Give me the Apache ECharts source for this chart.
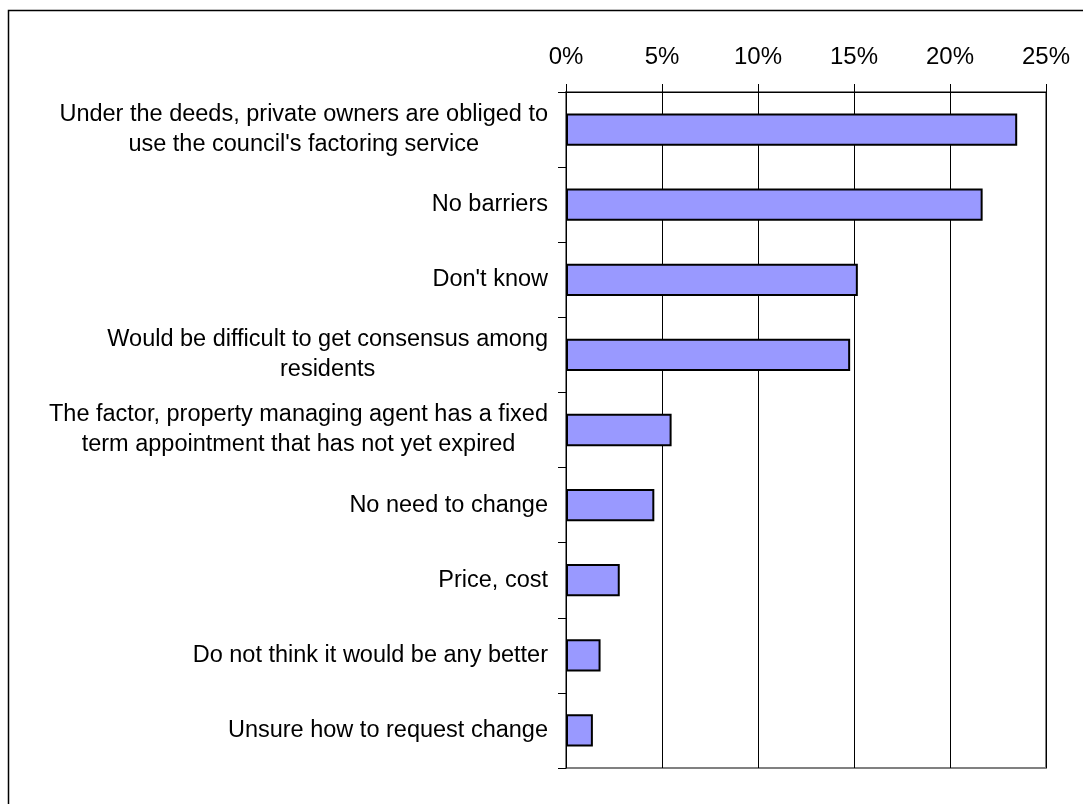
<!DOCTYPE html>
<html>
<head>
<meta charset="utf-8">
<script src="https://cdn.jsdelivr.net/npm/echarts@6/dist/echarts.min.js"></script>
<style>
html,body{margin:0;padding:0;background:#fff;}
#chart{width:1083px;height:804px;}
</style>
</head>
<body>
<div id="chart"></div>
<script>
const categories = [
  "Under the deeds, private owners are obliged to\nuse the council's factoring service",
  "No barriers",
  "Don't know",
  "Would be difficult to get consensus among\nresidents",
  "The factor, property managing agent has a fixed\nterm appointment that has not yet expired",
  "No need to change",
  "Price, cost",
  "Do not think it would be any better",
  "Unsure how to request change"
];
const values = [23.5, 21.7, 15.2, 14.8, 5.5, 4.6, 2.8, 1.8, 1.4];
const xTicks = [0, 5, 10, 15, 20, 25];

const chart = echarts.init(document.getElementById('chart'));
chart.setOption({
  backgroundColor: '#ffffff',
  animation: false,
  graphic: [{
    type: 'rect',
    shape: {x: 8.5, y: 10.5, width: 1200, height: 1000},
    style: {fill: 'none', stroke: '#000', lineWidth: 1.5},
    silent: true
  }],
  grid: {
    left: 566, right: 37, top: 92, bottom: 36,
    show: true, borderColor: '#808080', borderWidth: 2, backgroundColor: 'transparent'
  },
  xAxis: {
    type: 'value',
    position: 'top',
    min: xTicks[0], max: xTicks[xTicks.length - 1], interval: 5,
    axisLine: {show: true, lineStyle: {color: '#000', width: 1}},
    axisTick: {show: true, inside: false, length: 8, lineStyle: {color: '#000'}},
    axisLabel: {
      formatter: v => v + '%',
      color: '#000', fontFamily: 'Liberation Sans', fontSize: 24, margin: 23
    },
    splitLine: {show: true, lineStyle: {color: '#000', width: 1}}
  },
  yAxis: {
    type: 'category',
    inverse: true,
    data: categories,
    axisLine: {show: true, lineStyle: {color: '#000', width: 1}},
    axisTick: {show: true, inside: false, length: 8, lineStyle: {color: '#000'}},
    axisLabel: {
      color: '#000', fontFamily: 'Liberation Sans', fontSize: 23.5, margin: 18,
      lineHeight: 30,
      formatter: v => v.split('\n').map(l => '{c|' + l + '}').join('\n'),
      rich: {c: {align: 'center', fontFamily: 'Liberation Sans', fontSize: 23.5, lineHeight: 30, color: '#000'}}
    },
    splitLine: {show: false}
  },
  series: [{
    type: 'bar',
    data: values,
    barWidth: '43%',
    itemStyle: {color: '#9999FF', borderColor: '#000', borderWidth: 2}
  }]
});
</script>
</body>
</html>
